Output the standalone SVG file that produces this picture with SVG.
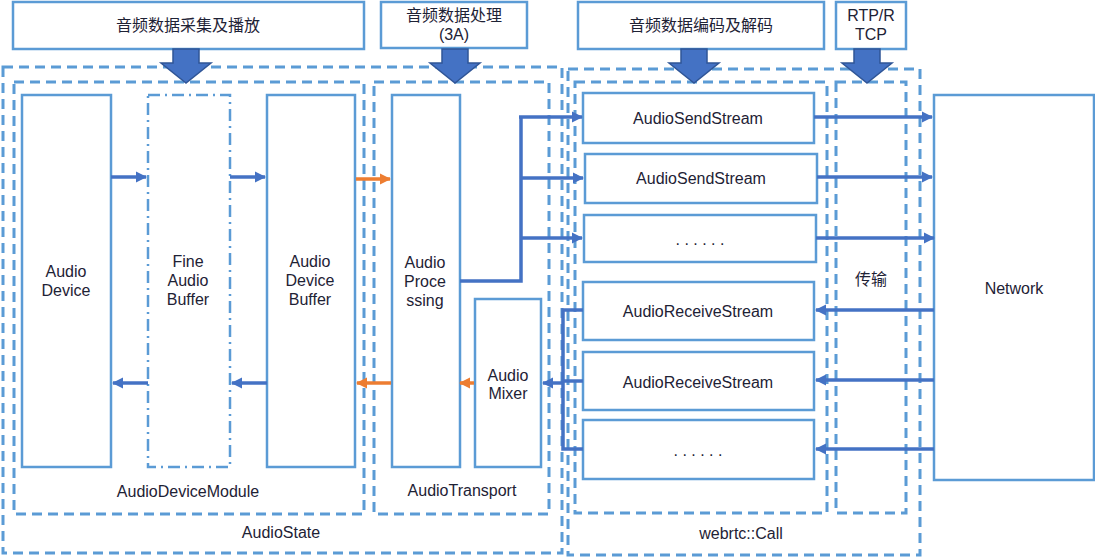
<svg xmlns="http://www.w3.org/2000/svg" width="1095" height="558" viewBox="0 0 1095 558">
<style>
.t{font-family:"Liberation Sans","Noto Sans CJK SC",sans-serif;font-size:16px;fill:#1e2235;text-anchor:middle}
.box{fill:#fff;stroke:#5B9BD5;stroke-width:2.5}
.dash{fill:none;stroke:#5B9BD5;stroke-width:3;stroke-dasharray:10 6}
.dd{fill:none;stroke:#5B9BD5;stroke-width:2.5;stroke-dasharray:12 5 2 5}
.c{fill:none;stroke:#4472C4;stroke-width:3.5}
.o{fill:none;stroke:#ED7D31;stroke-width:3.5}
.big{fill:#4472C4;stroke:#2F5597;stroke-width:1.5}
</style>
<defs>
<marker id="ab" viewBox="0 0 10 10" refX="9" refY="5" markerWidth="3.2" markerHeight="3.2" orient="auto" markerUnits="strokeWidth"><path d="M0,0L10,5L0,10z" fill="#4472C4"/></marker>
<marker id="ao" viewBox="0 0 10 10" refX="9" refY="5" markerWidth="3.2" markerHeight="3.2" orient="auto" markerUnits="strokeWidth"><path d="M0,0L10,5L0,10z" fill="#ED7D31"/></marker>
</defs>

<g id="containers">
<rect class="dash" x="3" y="67" width="559" height="486"/>
<text class="t" x="281" y="538">AudioState</text>
<rect class="dash" x="568" y="69" width="352" height="486"/>
<text class="t" x="741" y="539">webrtc::Call</text>
<rect class="dash" x="14" y="82" width="350" height="432"/>
<text class="t" x="188" y="497">AudioDeviceModule</text>
<rect class="dash" x="374" y="82" width="175" height="432"/>
<text class="t" x="462" y="496">AudioTransport</text>
<rect class="dash" x="575" y="82" width="252" height="431"/>
<rect class="dash" x="836" y="82" width="70" height="431"/>
<text class="t" x="871" y="285">传输</text>
</g>

<g id="title1"><rect class="box" x="13" y="2" width="351" height="47"/><text class="t" x="188" y="31">音频数据采集及播放</text></g>
<g id="title2"><rect class="box" x="381" y="2" width="146" height="46"/><text class="t" x="454" y="21">音频数据处理</text><text class="t" x="454" y="40">(3A)</text></g>
<g id="title3"><rect class="box" x="578" y="2" width="246" height="47"/><text class="t" x="701" y="31">音频数据编码及解码</text></g>
<g id="title4"><rect class="box" x="836" y="2" width="70" height="47"/><text class="t" x="871" y="21">RTP/R</text><text class="t" x="871" y="40">TCP</text></g>

<g id="bigArrows">
<path class="big" d="M173,49h26v14h12l-25,20l-25,-20h12z"/>
<path class="big" d="M442,49h26v14h12l-25,20l-25,-20h12z"/>
<path class="big" d="M681,49h26v14h12l-25,20l-25,-20h12z"/>
<path class="big" d="M854,49h26v14h12l-25,20l-25,-20h12z"/>
</g>

<g id="audioDevice"><rect class="box" x="22" y="95" width="89" height="372"/><text class="t" x="66" y="277">Audio</text><text class="t" x="66" y="296">Device</text></g>
<g id="fineAudioBuffer"><rect class="dd" x="148" y="95" width="82" height="372"/><text class="t" x="188" y="267">Fine</text><text class="t" x="188" y="286">Audio</text><text class="t" x="188" y="305">Buffer</text></g>
<g id="audioDeviceBuffer"><rect class="box" x="267" y="95" width="88" height="372"/><text class="t" x="310" y="267">Audio</text><text class="t" x="310" y="286">Device</text><text class="t" x="310" y="305">Buffer</text></g>
<g id="audioProcessing"><rect class="box" x="392" y="95" width="68" height="372"/><text class="t" x="425" y="268">Audio</text><text class="t" x="425" y="287">Proce</text><text class="t" x="425" y="306">ssing</text></g>
<g id="audioMixer"><rect class="box" x="475" y="299" width="66" height="168"/><text class="t" x="508" y="381">Audio</text><text class="t" x="508" y="399">Mixer</text></g>

<g id="send1"><rect class="box" x="583" y="93" width="231" height="50"/><text class="t" x="698" y="124">AudioSendStream</text></g>
<g id="send2"><rect class="box" x="585" y="154" width="232" height="49"/><text class="t" x="701" y="184">AudioSendStream</text></g>
<g id="sendMore"><rect class="box" x="584" y="215" width="232" height="47"/><text class="t" x="700" y="245">. . . . . .</text></g>
<g id="recv1"><rect class="box" x="583" y="282" width="231" height="58"/><text class="t" x="698" y="317">AudioReceiveStream</text></g>
<g id="recv2"><rect class="box" x="583" y="352" width="231" height="58"/><text class="t" x="698" y="388">AudioReceiveStream</text></g>
<g id="recvMore"><rect class="box" x="583" y="420" width="231" height="59"/><text class="t" x="698" y="456">. . . . . .</text></g>
<g id="network"><rect class="box" x="934" y="95" width="160" height="385"/><text class="t" x="1014" y="294">Network</text></g>

<g id="connectors">
<path class="c" d="M111,177H146" marker-end="url(#ab)"/>
<path class="c" d="M230,177H265" marker-end="url(#ab)"/>
<path class="o" d="M356,179H390" marker-end="url(#ao)"/>
<path class="c" d="M148,383H113" marker-end="url(#ab)"/>
<path class="c" d="M267,383H232" marker-end="url(#ab)"/>
<path class="o" d="M391,383H357" marker-end="url(#ao)"/>
<path class="o" d="M474,383H460" marker-end="url(#ao)"/>
<path class="c" d="M460,281H521V117"/>
<path class="c" d="M519,117H582" marker-end="url(#ab)"/>
<path class="c" d="M521,178H583" marker-end="url(#ab)"/>
<path class="c" d="M521,238H582" marker-end="url(#ab)"/>
<path class="c" d="M583,310H563V449H583"/>
<path class="c" d="M583,381H563"/>
<path class="c" d="M563,383H543" marker-end="url(#ab)"/>
<path class="c" d="M814,117H932" marker-end="url(#ab)"/>
<path class="c" d="M817,177H932" marker-end="url(#ab)"/>
<path class="c" d="M816,238H934" marker-end="url(#ab)"/>
<path class="c" d="M934,310H816" marker-end="url(#ab)"/>
<path class="c" d="M934,380H816" marker-end="url(#ab)"/>
<path class="c" d="M934,449H816" marker-end="url(#ab)"/>
</g>
</svg>
